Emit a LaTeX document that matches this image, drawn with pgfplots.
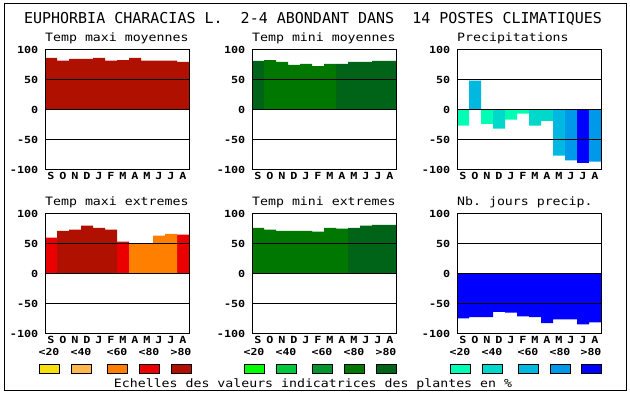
\documentclass[border=0pt]{standalone}
\usepackage{fontspec}
\setmainfont{DejaVu Sans Mono}
\newfontfamily\pixsub[FakeStretch=1.15]{DejaVu Sans Mono}
\newfontfamily\pixtick[FakeStretch=1.2]{DejaVu Sans Mono}
\usepackage{pgfplots}
\pgfplotsset{compat=1.18}
\definecolor{r1}{HTML}{F8E010}
\definecolor{r2}{HTML}{FFB850}
\definecolor{r3}{HTML}{FF8000}
\definecolor{r4}{HTML}{EA0000}
\definecolor{r5}{HTML}{B01000}
\definecolor{g1}{HTML}{00FF00}
\definecolor{g2}{HTML}{00C83C}
\definecolor{g3}{HTML}{00962D}
\definecolor{g4}{HTML}{007800}
\definecolor{g5}{HTML}{006418}
\definecolor{b1}{HTML}{00FFB4}
\definecolor{b2}{HTML}{00D8CC}
\definecolor{b3}{HTML}{00B8E0}
\definecolor{b4}{HTML}{0098E8}
\definecolor{b5}{HTML}{0000FF}
\pgfplotsset{
  panel/.style={
    width=144bp, height=120bp, scale only axis, anchor=south west,
    xmin=0, xmax=12, ymin=-100, ymax=100,
    axis on top,
    ytick={-100,-50,0,50,100}, ymajorgrids,
    grid style={black, line width=1bp},
    axis line style={line width=1bp},
    major tick length=0pt,
    xtick={0.5,1.5,...,11.5}, xticklabels={S,O,N,D,J,F,M,A,M,J,J,A},
    ticklabel style={font=\pixtick\bfseries\fontsize{9.8bp}{10bp}\selectfont},
    /pgf/number format/assume math mode=true,
    yticklabel style={inner sep=0pt, xshift=-6.5bp},
    xticklabel style={anchor=base, inner sep=0pt, yshift=-10bp},
  },
  bb/.style={ybar, bar width=12bp, bar shift=0pt, draw=none, fill=#1},
}
\begin{document}
\frenchspacing
\begin{tikzpicture}
\useasboundingbox (0,0) rectangle (630bp,394bp);
\draw[line width=1bp] (4.5bp,3.5bp) rectangle (626.5bp,390.5bp);
\node[anchor=base] at (313bp,370.5bp) {\fontsize{15bp}{16bp}\selectfont EUPHORBIA CHARACIAS L.\ \ 2-4 ABONDANT DANS\ \ 14 POSTES CLIMATIQUES};
% titles
\node[anchor=base west, inner sep=0pt] at (45bp,352bp) {\pixsub\fontsize{11.5bp}{12bp}\selectfont Temp maxi moyennes};
\node[anchor=base west, inner sep=0pt] at (252bp,352bp) {\pixsub\fontsize{11.5bp}{12bp}\selectfont Temp mini moyennes};
\node[anchor=base west, inner sep=0pt] at (457bp,352bp) {\pixsub\fontsize{11.5bp}{12bp}\selectfont Precipitations};
\node[anchor=base west, inner sep=0pt] at (45bp,188bp) {\pixsub\fontsize{11.5bp}{12bp}\selectfont Temp maxi extremes};
\node[anchor=base west, inner sep=0pt] at (252bp,188bp) {\pixsub\fontsize{11.5bp}{12bp}\selectfont Temp mini extremes};
\node[anchor=base west, inner sep=0pt] at (457bp,188bp) {\pixsub\fontsize{11.5bp}{12bp}\selectfont Nb. jours precip.};

% Panel 1: Temp maxi moyennes
\begin{axis}[panel, at={(45bp,224bp)}]
\addplot[bb=r5] coordinates {(0.5,86.7) (1.5,82.2) (2.5,85) (3.5,85) (4.5,86.7) (5.5,82.2) (6.5,83.3) (7.5,86.7) (8.5,82.2) (9.5,82.2) (10.5,82.2) (11.5,80)};
\end{axis}
% Panel 2: Temp mini moyennes
\begin{axis}[panel, at={(252bp,224bp)}]
\addplot[bb=g5] coordinates {(0.5,81.7) (7.5,76.7) (8.5,80) (9.5,80) (10.5,81.7) (11.5,81.7)};
\addplot[bb=g4] coordinates {(1.5,83.3) (2.5,80) (3.5,75) (4.5,76.7) (5.5,73.3) (6.5,76.7)};
\end{axis}
% Panel 3: Precipitations
\begin{axis}[panel, at={(457bp,224bp)}]
\addplot[bb=b1] coordinates {(0.5,-26) (2.5,-23) (4.5,-16) (5.5,-6)};
\addplot[bb=b2] coordinates {(3.5,-31) (6.5,-26) (7.5,-18)};
\addplot[bb=b3] coordinates {(1.5,49) (8.5,-76)};
\addplot[bb=b4] coordinates {(9.5,-84) (11.5,-86)};
\addplot[bb=b5] coordinates {(10.5,-88)};
\end{axis}
% Panel 4: Temp maxi extremes
\begin{axis}[panel, at={(45bp,60bp)}]
\addplot[bb=r4] coordinates {(0.5,60.5) (6.5,54) (11.5,65.5)};
\addplot[bb=r5] coordinates {(1.5,72) (2.5,73.8) (3.5,80.5) (4.5,77) (5.5,74)};
\addplot[bb=r3] coordinates {(7.5,50) (8.5,51.5) (9.5,64) (10.5,67)};
\end{axis}
% Panel 5: Temp mini extremes
\begin{axis}[panel, at={(252bp,60bp)}]
\addplot[bb=g4] coordinates {(0.5,77) (1.5,74) (2.5,72) (3.5,72) (4.5,72) (5.5,70.5) (6.5,77) (7.5,75.5)};
\addplot[bb=g5] coordinates {(8.5,77) (9.5,80.5) (10.5,82) (11.5,82)};
\end{axis}
% Panel 6: Nb jours precip
\begin{axis}[panel, at={(457bp,60bp)}]
\addplot[bb=b5] coordinates {(0.5,-74) (1.5,-72) (2.5,-72) (3.5,-63) (4.5,-64.5) (5.5,-70.5) (6.5,-72) (7.5,-82) (8.5,-75.5) (9.5,-75.5) (10.5,-84) (11.5,-80.5)};
\end{axis}

% legend scales
\foreach \x/\c/\t in {49/r1/<20, 81/r2/<40, 117/r3/<60, 149/r4/<80, 181/r5/>80,
                      254/g1/<20, 286/g2/<40, 322/g3/<60, 354/g4/<80, 386/g5/>80,
                      460/b1/<20, 492/b2/<40, 528/b3/<60, 560/b4/<80, 591/b5/>80}{
  \draw[line width=1bp, fill=\c] (\x bp-10bp,20.7bp) rectangle (\x bp+10bp,29.7bp);
  \node[anchor=base, inner sep=0pt] at (\x bp,39bp) {\pixtick\bfseries\fontsize{9.6bp}{10bp}\selectfont \t};
}
\node[anchor=base, inner sep=0pt] at (313bp,7bp) {\pixsub\fontsize{11.5bp}{12bp}\selectfont Echelles des valeurs indicatrices des plantes en \%};
\end{tikzpicture}
\end{document}
